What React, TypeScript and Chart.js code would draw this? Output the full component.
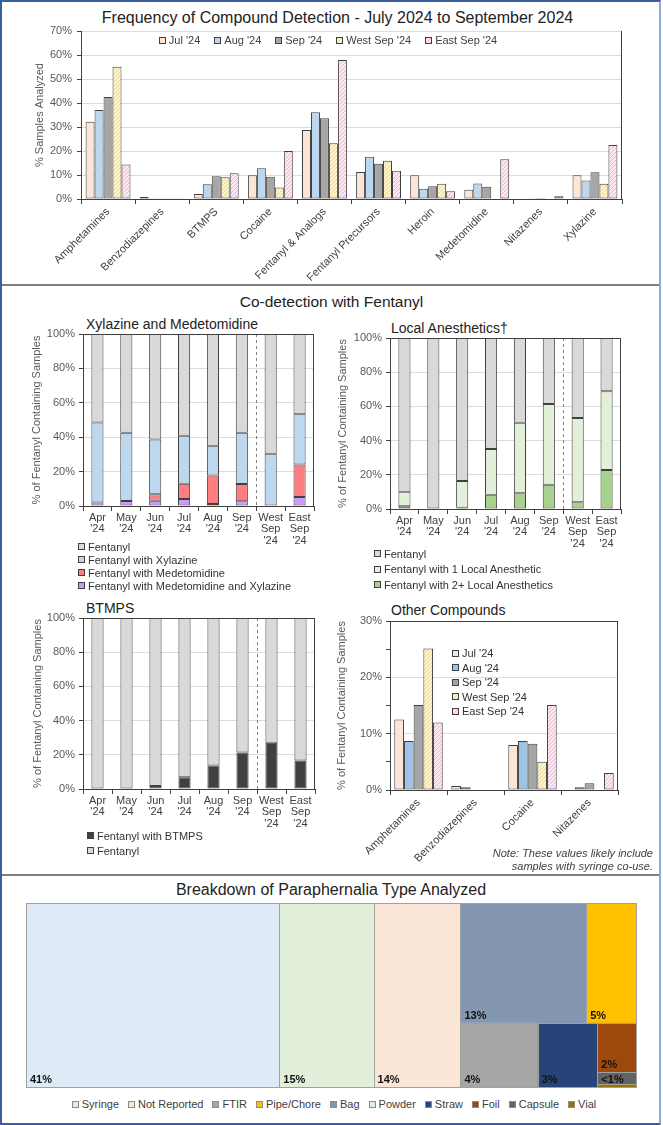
import React, { useEffect, useRef } from 'react';
import { Chart, registerables } from 'chart.js';

Chart.register(...registerables);

const FONT = "'Liberation Sans', Arial, sans-serif";
Chart.defaults.font.family = FONT;
Chart.defaults.color = '#404040';
if (typeof document !== 'undefined') document.body.style.margin = '0';

// ---------- Frequency of Compound Detection ----------
const compounds = ['Amphetamines', 'Benzodiazepines', 'BTMPS', 'Cocaine', 'Fentanyl & Analogs', 'Fentanyl Precursors', 'Heroin', 'Medetomidine', 'Nitazenes', 'Xylazine'];
const periods = ["Jul '24", "Aug '24", "Sep '24", "West Sep '24", "East Sep '24"];
const freqJul = [32.2, 0.8, 2.1, 9.9, 28.8, 11.3, 9.9, 3.9, 0, 9.9];
const freqAug = [37.1, 0.3, 6.1, 12.8, 36.1, 17.6, 4.3, 6.5, 0.3, 7.7];
const freqSep = [42.5, 0.3, 9.5, 9.3, 33.6, 14.7, 5.3, 5.1, 0.4, 11.1];
const freqWest = [55.1, 0.3, 9.1, 4.8, 23.2, 15.9, 6.4, 0, 0, 6.4];
const freqEast = [14.4, 0.3, 10.7, 20.0, 57.9, 11.8, 3.2, 16.6, 1.1, 22.5];
const freqMax = 70;
const freqStep = 10;

// ---------- Co-detection with Fentanyl ----------
const months = [['Apr', "'24"], ['May', "'24"], ['Jun', "'24"], ['Jul', "'24"], ['Aug', "'24"], ['Sep', "'24"], ['West', 'Sep', "'24"], ['East', 'Sep', "'24"]];
// Xylazine and Medetomidine
const xmMedXyl = [2.1, 2.9, 3.1, 4.1, 1.2, 2.7, 0, 5.3];
const xmMed = [0, 0, 3.7, 8.9, 16.5, 10.1, 0, 18.8];
const xmXyl = [46.5, 39.7, 31.9, 27.9, 17.3, 29.8, 30.4, 29.2];
const xmFent = [51.4, 57.4, 61.3, 59.1, 65.0, 57.4, 69.6, 46.7];
// Local Anesthetics
const laTwoPlus = [1.6, 0, 0.8, 8.4, 9.2, 14.2, 3.9, 22.8];
const laOne = [8.5, 0, 15.6, 26.7, 41.3, 47.2, 49.3, 46.0];
const laFent = [89.9, 100, 83.6, 64.9, 49.5, 38.6, 46.8, 31.2];
// BTMPS
const btBtmps = [0, 0, 1.8, 6.8, 13.8, 21.4, 27.0, 16.6];
const btFent = [100, 100, 98.2, 93.2, 86.2, 78.6, 73.0, 83.4];
// Other Compounds
const otherCats = ['Amphetamines', 'Benzodiazepines', 'Cocaine', 'Nitazenes'];
const otherJul = [12.5, 0.7, 8.0, 0];
const otherAug = [8.7, 0.5, 8.7, 0.5];
const otherSep = [15.1, 0, 8.2, 1.2];
const otherWest = [25.1, 0, 5.0, 0];
const otherEast = [12.0, 0, 15.1, 3.0];

// ---------- Paraphernalia ----------
const paraTypes = ['Syringe', 'Not Reported', 'FTIR', 'Pipe/Chore', 'Bag', 'Powder', 'Straw', 'Foil', 'Capsule', 'Vial'];
const paraShare = [41.4, 14.2, 4.4, 5.3, 13.4, 15.4, 3.4, 1.7, 0.4, 0.1];
const paraColors = ['#deebf7', '#fbe5d6', '#a6a6a6', '#ffc000', '#8497b0', '#e2efda', '#264478', '#9e480e', '#636363', '#997300'];
type TNode = string | { dir: 'h' | 'v'; kids: TNode[] };
const paraTree: TNode = {
  dir: 'h',
  kids: ['Syringe', 'Powder', 'Not Reported', {
    dir: 'v',
    kids: [
      { dir: 'h', kids: ['Bag', 'Pipe/Chore'] },
      { dir: 'h', kids: ['FTIR', 'Straw', { dir: 'v', kids: ['Foil', 'Capsule', 'Vial'] }] },
    ],
  }],
};

// ---------- colours ----------
const C_JUL = '#fbe5d6';
const C_AUG = '#bdd7ee';
const C_AUG2 = '#9dc3e6';
const C_SEP = '#a6a6a6';
const WEST_BG = '#fff2c4', WEST_FG = '#f5d988';
const EAST_BG = '#ffe6f2', EAST_FG = '#f5afd4';
const EDGE = '#404040';

function hatch(bg: string, fg: string) {
  const c = document.createElement('canvas');
  c.width = 4; c.height = 4;
  const g = c.getContext('2d')!;
  g.fillStyle = bg; g.fillRect(0, 0, 4, 4);
  g.strokeStyle = fg; g.lineWidth = 1;
  g.beginPath();
  g.moveTo(0, 4); g.lineTo(4, 0);
  g.moveTo(-1, 1); g.lineTo(1, -1);
  g.moveTo(3, 5); g.lineTo(5, 3);
  g.stroke();
  return g.createPattern(c, 'repeat')!;
}
const cssHatch = (bg: string, fg: string) => `repeating-linear-gradient(135deg, ${fg} 0px, ${fg} 1px, ${bg} 1px, ${bg} 3px)`;

const framePlugin = {
  id: 'frame',
  afterDatasetsDraw(chart: any, _a: any, opts: any) {
    const { ctx, chartArea: a, scales } = chart;
    ctx.save();
    if (opts.dashAfter !== undefined && opts.dashAfter !== null) {
      const xs = scales.x;
      const x = Math.round((xs.getPixelForValue(opts.dashAfter) + xs.getPixelForValue(opts.dashAfter + 1)) / 2) + 0.5;
      ctx.setLineDash([3, 3]);
      ctx.strokeStyle = '#7f7f7f';
      ctx.lineWidth = 1;
      ctx.beginPath(); ctx.moveTo(x, a.top); ctx.lineTo(x, a.bottom); ctx.stroke();
      ctx.setLineDash([]);
    }
    ctx.strokeStyle = opts.color || EDGE;
    ctx.lineWidth = 1;
    ctx.beginPath();
    if (opts.top) { ctx.moveTo(a.left, Math.round(a.top) + 0.5); ctx.lineTo(a.right, Math.round(a.top) + 0.5); }
    if (opts.right) { ctx.moveTo(Math.round(a.right) - 0.5, a.top); ctx.lineTo(Math.round(a.right) - 0.5, a.bottom); }
    ctx.stroke();
    ctx.restore();
  },
};

function yAxis(max: number, step: number, title: string, width: number, titlePad: number, majorEvery?: number) {
  return {
    min: 0, max,
    afterFit: (s: any) => { s.width = width; },
    ticks: {
      stepSize: step, color: '#595959', font: { size: 11 }, padding: 4,
      callback: (v: any) => (majorEvery && v % majorEvery !== 0 ? '' : v + '%'),
    },
    grid: {
      color: (c: any) => (majorEvery && c.tick && c.tick.value % majorEvery !== 0 ? 'rgba(0,0,0,0)' : '#dcdcdc'),
      tickColor: EDGE, tickLength: 4,
    },
    border: { color: EDGE, width: 1 },
    title: { display: true, text: title, color: '#595959', font: { size: 11 }, padding: { top: titlePad, bottom: 0 } },
  };
}

function xAxis(height: number, rotate: boolean, stacked: boolean) {
  return {
    stacked,
    afterFit: (s: any) => { s.height = height; },
    grid: { offset: true, drawOnChartArea: false, tickLength: 5, color: EDGE },
    border: { color: EDGE, width: 1 },
    ticks: {
      color: '#404040', font: { size: 11, lineHeight: 1.05 }, autoSkip: false,
      maxRotation: rotate ? 45 : 0, minRotation: rotate ? 45 : 0, padding: rotate ? 2 : 1,
    },
  };
}

const baseOpts = (pad: any) => ({
  responsive: false, animation: false as const, devicePixelRatio: 1,
  layout: { padding: pad },
});

const barStyle = { borderColor: EDGE, borderWidth: 1, borderSkipped: false as const };

function makeFreq(c: HTMLCanvasElement) {
  const west = hatch(WEST_BG, WEST_FG), east = hatch(EAST_BG, EAST_FG);
  const series = [freqJul, freqAug, freqSep, freqWest, freqEast];
  const fills: any[] = [C_JUL, C_AUG, C_SEP, west, east];
  return new Chart(c, {
    type: 'bar',
    data: {
      labels: compounds,
      datasets: series.map((d, i) => ({ label: periods[i], data: d, backgroundColor: fills[i], ...barStyle, barPercentage: 1, categoryPercentage: 0.83 })),
    },
    options: {
      ...baseOpts({ left: 0, top: 31, right: 41, bottom: 0 }),
      plugins: { legend: { display: false }, tooltip: { enabled: false }, frame: { right: true, color: EDGE } } as any,
      scales: { x: xAxis(86, true, false) as any, y: { ...yAxis(freqMax, freqStep, '% Samples Analyzed', 81, 33), ticks: { stepSize: freqStep, color: '#595959', font: { size: 11 }, padding: 5, callback: (v: any) => v + '%' } } as any },
    },
    plugins: [framePlugin as any],
  });
}

function makeStack(labelsSets: { label: string; data: number[]; color: string }[], pad: any, xH: number, titlePad: number) {
  return (c: HTMLCanvasElement) => new Chart(c, {
    type: 'bar',
    data: {
      labels: months as any,
      datasets: labelsSets.map((s) => ({ label: s.label, data: s.data, backgroundColor: s.color, ...barStyle, barPercentage: 0.42, categoryPercentage: 1 })),
    },
    options: {
      ...baseOpts(pad),
      plugins: { legend: { display: false }, tooltip: { enabled: false }, frame: { right: true, top: true, color: EDGE, dashAfter: 5 } } as any,
      scales: {
        x: xAxis(xH, false, true) as any,
        y: { ...yAxis(100, 20, '% of Fentanyl Containing Samples', pad.yW, titlePad), stacked: true } as any,
      },
    },
    plugins: [framePlugin as any],
  });
}

function makeOther(c: HTMLCanvasElement) {
  const west = hatch(WEST_BG, WEST_FG), east = hatch(EAST_BG, EAST_FG);
  const series = [otherJul, otherAug, otherSep, otherWest, otherEast];
  const fills: any[] = [C_JUL, C_AUG2, C_SEP, west, east];
  return new Chart(c, {
    type: 'bar',
    data: {
      labels: otherCats,
      datasets: series.map((d, i) => ({ label: periods[i], data: d, backgroundColor: fills[i], ...barStyle, barPercentage: 1, categoryPercentage: 0.85 })),
    },
    options: {
      ...baseOpts({ left: 0, top: 21, right: 45, bottom: 0 }),
      plugins: { legend: { display: false }, tooltip: { enabled: false }, frame: { right: true, top: true, color: EDGE } } as any,
      scales: { x: xAxis(90, true, false) as any, y: { ...yAxis(30, 5, '% of Fentanyl Containing Samples', 60, 5, 10) } as any },
    },
    plugins: [framePlugin as any],
  });
}

function layoutTree(node: TNode, x0: number, y0: number, x1: number, y1: number, out: any[]) {
  const val = (n: TNode): number => (typeof n === 'string' ? paraShare[paraTypes.indexOf(n)] : n.kids.reduce((s, k) => s + val(k), 0));
  if (typeof node === 'string') {
    out.push({ name: node, x0, y0, x1, y1 });
    return;
  }
  const total = val(node);
  let pos = node.dir === 'h' ? x0 : y0;
  for (const k of node.kids) {
    const f = val(k) / total;
    if (node.dir === 'h') {
      const w = (x1 - x0) * f;
      layoutTree(k, pos, y0, pos + w, y1, out);
      pos += w;
    } else {
      const h = (y1 - y0) * f;
      layoutTree(k, x0, pos, x1, pos + h, out);
      pos += h;
    }
  }
}

function makeTreemap(c: HTMLCanvasElement) {
  const rects: any[] = [];
  layoutTree(paraTree, 0, 0, 100, 100, rects);
  const plugin = {
    id: 'treemap',
    afterDraw(chart: any) {
      const { ctx, scales: { x, y } } = chart;
      ctx.save();
      for (const r of rects) {
        const i = paraTypes.indexOf(r.name);
        const px0 = x.getPixelForValue(r.x0), px1 = x.getPixelForValue(r.x1);
        const py0 = y.getPixelForValue(r.y0), py1 = y.getPixelForValue(r.y1);
        ctx.fillStyle = paraColors[i];
        ctx.fillRect(px0, py0, px1 - px0, py1 - py0);
      }
      ctx.strokeStyle = '#a0a0a0';
      ctx.lineWidth = 1;
      for (const r of rects) {
        const px0 = Math.round(x.getPixelForValue(r.x0)) + 0.5, px1 = Math.round(x.getPixelForValue(r.x1)) + 0.5;
        const py0 = Math.round(y.getPixelForValue(r.y0)) + 0.5, py1 = Math.round(y.getPixelForValue(r.y1)) + 0.5;
        ctx.strokeRect(px0, py0, px1 - px0, py1 - py0);
      }
      ctx.fillStyle = '#111';
      ctx.font = `bold 11px ${FONT}`;
      ctx.textAlign = 'left';
      ctx.textBaseline = 'alphabetic';
      for (const r of rects) {
        const v = paraShare[paraTypes.indexOf(r.name)];
        const px0 = x.getPixelForValue(r.x0);
        const py0 = y.getPixelForValue(r.y0), py1 = y.getPixelForValue(r.y1);
        const h = py1 - py0;
        if (h < 6) continue;
        const label = v < 1 ? '<1%' : Math.round(v) + '%';
        ctx.fillText(label, px0 + 4, h < 16 ? py1 - 1 : py1 - 4);
      }
      ctx.restore();
    },
  };
  return new Chart(c, {
    type: 'scatter',
    data: { datasets: [{ data: [] }] },
    options: {
      ...baseOpts({ left: 26, top: 8, right: 27, bottom: 8 }),
      plugins: { legend: { display: false }, tooltip: { enabled: false } },
      scales: {
        x: { type: 'linear', min: 0, max: 100, display: false },
        y: { type: 'linear', min: 0, max: 100, reverse: true, display: false },
      },
    },
    plugins: [plugin as any],
  });
}

function ChartBox({ make, left, top, width, height }: { make: (c: HTMLCanvasElement) => Chart; left: number; top: number; width: number; height: number }) {
  const ref = useRef<HTMLCanvasElement>(null);
  useEffect(() => {
    const ch = make(ref.current!);
    return () => ch.destroy();
  }, []);
  return <canvas ref={ref} width={width} height={height} style={{ position: 'absolute', left, top, width, height }} />;
}

function Swatch({ bg, border = EDGE }: { bg: string; border?: string }) {
  return <span style={{ display: 'inline-block', width: 7, height: 7, boxSizing: 'border-box', border: `1px solid ${border}`, background: bg, marginRight: 3, flex: 'none' }} />;
}

function VLegend({ items, left, top, pitch }: { items: { label: string; bg: string }[]; left: number; top: number; pitch: number }) {
  return (
    <div style={{ position: 'absolute', left, top, fontSize: 11, color: '#333' }}>
      {items.map((it) => (
        <div key={it.label} style={{ height: pitch, display: 'flex', alignItems: 'center', whiteSpace: 'nowrap' }}>
          <Swatch bg={it.bg} />
          <span>{it.label}</span>
        </div>
      ))}
    </div>
  );
}

function HLegend({ items, left, top, width, gap, border }: { items: { label: string; bg: string }[]; left: number; top: number; width: number; gap: number; border?: string }) {
  return (
    <div style={{ position: 'absolute', left, top, width, height: 12, display: 'flex', justifyContent: 'center', alignItems: 'center', gap, fontSize: 11, color: '#404040', whiteSpace: 'nowrap' }}>
      {items.map((it) => (
        <div key={it.label} style={{ display: 'flex', alignItems: 'center' }}>
          <Swatch bg={it.bg} border={border} />
          <span>{it.label}</span>
        </div>
      ))}
    </div>
  );
}

const abs = (o: React.CSSProperties): React.CSSProperties => ({ position: 'absolute', whiteSpace: 'nowrap', ...o });

export default function App() {
  const periodSw = [C_JUL, C_AUG, C_SEP, cssHatch(WEST_BG, WEST_FG), cssHatch(EAST_BG, EAST_FG)];
  const periodSw2 = [C_JUL, C_AUG2, C_SEP, cssHatch(WEST_BG, WEST_FG), cssHatch(EAST_BG, EAST_FG)];
  return (
    <div style={{ position: 'relative', width: 663, height: 1125, background: '#fff', overflow: 'hidden', fontFamily: FONT, color: '#222' }}>
      {/* Section 1 */}
      <div style={abs({ left: 0, top: 8, width: 675, textAlign: 'center', fontSize: 16, lineHeight: '20px' })}>Frequency of Compound Detection - July 2024 to September 2024</div>
      <ChartBox make={makeFreq} left={0} top={0} width={663} height={285} />
      <HLegend items={periods.map((p, i) => ({ label: p, bg: periodSw[i] }))} left={0} top={34} width={656} gap={14} />

      {/* Section 2 */}
      <div style={abs({ left: 0, top: 292, width: 663, textAlign: 'center', fontSize: 15.5, lineHeight: '20px' })}>Co-detection with Fentanyl</div>
      <div style={abs({ left: 86, top: 315, fontSize: 14, lineHeight: '18px' })}>Xylazine and Medetomidine</div>
      <div style={abs({ left: 391, top: 319, fontSize: 14, lineHeight: '18px' })}>Local Anesthetics†</div>
      <div style={abs({ left: 86, top: 599, fontSize: 14, lineHeight: '18px' })}>BTMPS</div>
      <div style={abs({ left: 391, top: 601, fontSize: 14, lineHeight: '18px' })}>Other Compounds</div>

      <ChartBox
        make={makeStack([
          { label: 'Fentanyl with Medetomidine and Xylazine', data: xmMedXyl, color: '#cc99ff' },
          { label: 'Fentanyl with Medetomidine', data: xmMed, color: '#ff7c80' },
          { label: 'Fentanyl with Xylazine', data: xmXyl, color: '#bdd7ee' },
          { label: 'Fentanyl', data: xmFent, color: '#d9d9d9' },
        ], { left: 0, top: 34, right: 16, bottom: 0, yW: 83 }, 44, 30)}
        left={0} top={300} width={330} height={250}
      />
      <VLegend left={78} top={540} pitch={13} items={[
        { label: 'Fentanyl', bg: '#d9d9d9' },
        { label: 'Fentanyl with Xylazine', bg: '#bdd7ee' },
        { label: 'Fentanyl with Medetomidine', bg: '#ff7c80' },
        { label: 'Fentanyl with Medetomidine and Xylazine', bg: '#cc99ff' },
      ]} />

      <ChartBox
        make={makeStack([
          { label: 'Fentanyl with 2+ Local Anesthetics', data: laTwoPlus, color: '#a9d18e' },
          { label: 'Fentanyl with 1 Local Anesthetic', data: laOne, color: '#e2f0d9' },
          { label: 'Fentanyl', data: laFent, color: '#d9d9d9' },
        ], { left: 0, top: 38, right: 42, bottom: 0, yW: 60 }, 41, 6)}
        left={330} top={300} width={333} height={250}
      />
      <VLegend left={374} top={546} pitch={15.5} items={[
        { label: 'Fentanyl', bg: '#d9d9d9' },
        { label: 'Fentanyl with 1 Local Anesthetic', bg: '#e2f0d9' },
        { label: 'Fentanyl with 2+ Local Anesthetics', bg: '#a9d18e' },
      ]} />

      <ChartBox
        make={makeStack([
          { label: 'Fentanyl with BTMPS', data: btBtmps, color: '#404040' },
          { label: 'Fentanyl', data: btFent, color: '#d9d9d9' },
        ], { left: 0, top: 18, right: 15, bottom: 0, yW: 83 }, 41, 31)}
        left={0} top={600} width={330} height={230}
      />
      <VLegend left={87} top={828} pitch={15} items={[
        { label: 'Fentanyl with BTMPS', bg: '#404040' },
        { label: 'Fentanyl', bg: '#d9d9d9' },
      ]} />

      <ChartBox make={makeOther} left={330} top={600} width={333} height={280} />
      <VLegend left={452} top={646} pitch={14.5} items={periods.map((p, i) => ({ label: p, bg: periodSw2[i] }))} />
      <div style={abs({ left: 380, top: 847, width: 273, textAlign: 'right', fontSize: 11, lineHeight: '13px', fontStyle: 'italic', color: '#404040' })}>
        Note: These values likely include<br />samples with syringe co-use.
      </div>

      {/* Section 3 */}
      <div style={abs({ left: 0, top: 880, width: 662, textAlign: 'center', fontSize: 16, lineHeight: '20px' })}>Breakdown of Paraphernalia Type Analyzed</div>
      <ChartBox make={makeTreemap} left={0} top={895} width={663} height={200} />
      <HLegend items={paraTypes.map((p, i) => ({ label: p, bg: paraColors[i] }))} left={0} top={1098} width={668} gap={9} border="#8c8c8c" />

      {/* separators and frame */}
      <div style={abs({ left: 0, top: 284, width: 660, height: 2, background: '#7f7f7f' })} />
      <div style={abs({ left: 0, top: 874, width: 660, height: 2, background: '#7f7f7f' })} />
      <div style={abs({ left: 0, top: 0, width: 661, height: 1125, boxSizing: 'border-box', borderLeft: '2px solid #3a5fa0', borderTop: '2px solid #3a5fa0', borderRight: '2px solid #8faadc', borderBottom: '2px solid #3a5fa0', pointerEvents: 'none' })} />
    </div>
  );
}
